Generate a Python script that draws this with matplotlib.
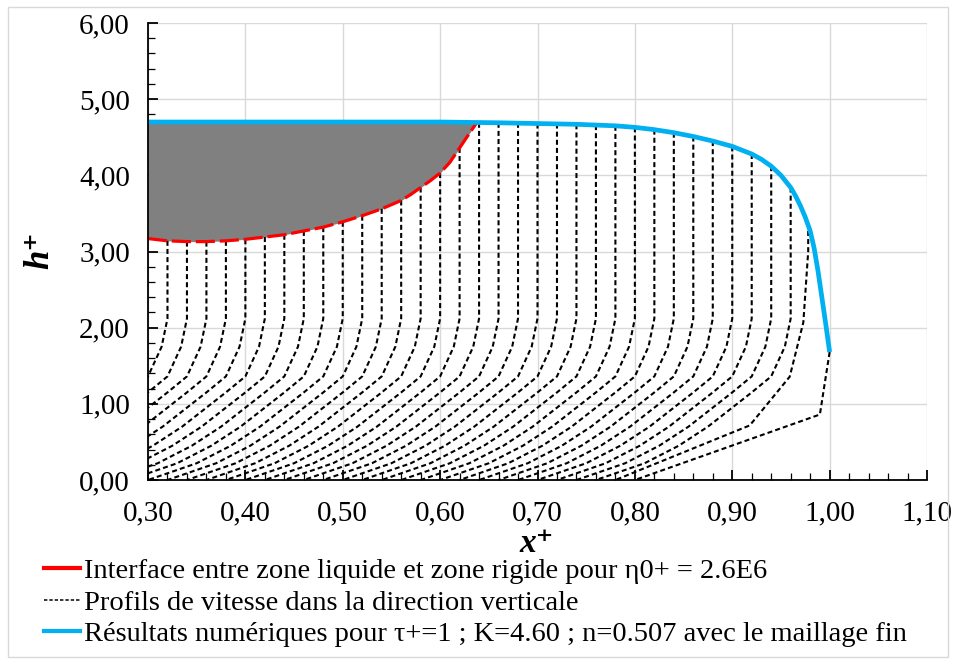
import numpy as np
import matplotlib
matplotlib.use("Agg")
import matplotlib.pyplot as plt
from matplotlib.lines import Line2D
from matplotlib.patches import Rectangle
from matplotlib.ticker import MultipleLocator, FuncFormatter

# ---------------- data ----------------
# free surface (numerical result, blue)
surf_x = [0.30, 0.40, 0.50, 0.60, 0.66, 0.70, 0.74, 0.78, 0.80, 0.82, 0.84, 0.86,
          0.88, 0.90, 0.91, 0.92, 0.93, 0.94, 0.95, 0.96, 0.965, 0.97, 0.975,
          0.98, 0.984, 0.988, 0.992, 0.996, 1.00]
surf_h = [4.70, 4.70, 4.70, 4.70, 4.69, 4.68, 4.67, 4.65, 4.63, 4.60, 4.56, 4.51,
          4.45, 4.38, 4.33, 4.28, 4.21, 4.12, 4.00, 3.84, 3.73, 3.60, 3.45,
          3.27, 3.05, 2.75, 2.40, 2.05, 1.68]

# liquid / rigid interface (red)
intf_x = [0.30, 0.32, 0.34, 0.36, 0.38, 0.40, 0.44, 0.48, 0.50, 0.52, 0.54, 0.56,
          0.57, 0.58, 0.59, 0.60, 0.61, 0.62, 0.63, 0.637]
intf_h = [3.17, 3.14, 3.13, 3.13, 3.14, 3.16, 3.22, 3.32, 3.39, 3.47, 3.56, 3.67,
          3.75, 3.84, 3.93, 4.03, 4.17, 4.36, 4.55, 4.68]

# velocity profiles: x position of plug part and height of its top
prof_x = [0.32, 0.34, 0.36, 0.38, 0.40, 0.42, 0.44, 0.46, 0.48, 0.50, 0.52, 0.54,
          0.56, 0.58, 0.60, 0.62, 0.64, 0.66, 0.68, 0.70, 0.72, 0.74, 0.76, 0.78,
          0.80, 0.82, 0.84, 0.86, 0.88, 0.90, 0.92, 0.94, 0.96]
prof_top = [3.14, 3.13, 3.13, 3.14, 3.16, 3.19, 3.22, 3.27, 3.32, 3.39, 3.47, 3.56,
            3.67, 3.84, 4.03, 4.36, 4.69, 4.69, 4.69, 4.68, 4.68, 4.67, 4.66, 4.65,
            4.63, 4.60, 4.56, 4.51, 4.45, 4.38, 4.28, 4.12, 3.84]
# common sheared-zone shape: heights and backward shift of each node
shear_h = [2.12, 1.75, 1.36, 1.15, 0.95, 0.70, 0.45, 0.22, 0.0]
shear_dx = [0.0, 0.006, 0.020, 0.040, 0.060, 0.085, 0.115, 0.150, 0.200]
# the two front profiles
front1_x = [0.978, 0.978, 0.973, 0.959, 0.918, 0.780]
front1_h = [3.27, 3.00, 2.07, 1.356, 0.717, 0.0]
front2_x = [1.00, 0.990, 0.800]
front2_h = [1.68, 0.86, 0.0]

xticks = [0.30, 0.40, 0.50, 0.60, 0.70, 0.80, 0.90, 1.00, 1.10]
yticks = [0, 1, 2, 3, 4, 5, 6]

lab_red = "Interface entre zone liquide et zone rigide pour η0+ = 2.6E6"
lab_blk = "Profils de vitesse dans la direction verticale"
lab_blu = "Résultats numériques pour τ+=1 ; K=4.60 ; n=0.507 avec le maillage fin"

# ---------------- figure ----------------
W, H = 956, 664
fig = plt.figure(figsize=(W / 100, H / 100), dpi=100)
serif = ["Liberation Serif", "DejaVu Serif"]
plt.rcParams["font.family"] = serif

ax = fig.add_axes([148 / W, 1 - 480 / H, (927 - 148) / W, (480 - 23) / H])
ax.set_xlim(0.30, 1.10)
ax.set_ylim(0, 6)

BLUE = "#00B0F0"
RED = "#FF0000"
GRAY = "#808080"

# gray rigid zone
fx = np.array(intf_x)
ftop = np.interp(fx, surf_x, surf_h)
ax.fill_between(fx, intf_h, ftop, color=GRAY, lw=0, zorder=2)

dash = (0, (2.4, 1.5))
LW = 1.5
for X, top in zip(prof_x, prof_top):
    xs = [X] + [X - d for d in shear_dx]
    hs = [top] + shear_h
    ax.plot(xs, hs, color="black", lw=LW, linestyle=dash, zorder=3)
ax.plot(front1_x, front1_h, color="black", lw=LW, linestyle=dash, zorder=3)
ax.plot(front2_x, front2_h, color="black", lw=LW, linestyle=dash, zorder=3)

ax.plot(intf_x, intf_h, color=RED, lw=2.3, linestyle=(0, (6.0, 1.5)), zorder=4)
ax.plot(surf_x, surf_h, color=BLUE, lw=3.4, solid_capstyle="butt",
        solid_joinstyle="round", zorder=5)

# axes styling
ax.xaxis.set_minor_locator(MultipleLocator(0.02))
ax.yaxis.set_minor_locator(MultipleLocator(0.2))
ax.set_xticks(xticks)
ax.set_yticks(yticks)
fmt = FuncFormatter(lambda v, p: f"{v:.2f}".replace(".", ","))
ax.xaxis.set_major_formatter(fmt)
ax.yaxis.set_major_formatter(fmt)
ax.grid(True, which="major", color="#d9d9d9", lw=1.0, zorder=0)
ax.set_axisbelow(True)
for s in ("top", "right"):
    ax.spines[s].set_visible(False)
for s in ("left", "bottom"):
    ax.spines[s].set_linewidth(1.3)
    ax.spines[s].set_zorder(6)
ax.tick_params(axis="both", which="major", direction="in", length=7, width=1.3,
               labelsize=21, colors="black")
ax.tick_params(axis="both", which="minor", direction="in", length=5, width=0.9)
ax.tick_params(axis="x", which="major", pad=15)
ax.tick_params(axis="y", which="major", pad=13)

fig.text(537 / W, 1 - 543 / H, "x⁺", ha="center", va="center", fontsize=24,
         fontweight="bold", fontstyle="italic", family=serif)
fig.text(40 / W, 1 - 250 / H, "h⁺", ha="center", va="center", fontsize=25,
         fontweight="bold", fontstyle="italic", family=serif, rotation=90)

handles = [Line2D([], [], color=RED, lw=3.0),
           Line2D([], [], color="black", lw=1.1, linestyle=(0, (2.2, 1.3))),
           Line2D([], [], color=BLUE, lw=3.0)]
fig.legend(handles, [lab_red, lab_blk, lab_blu], loc="upper left",
           bbox_to_anchor=(44 / W, 1 - 558 / H), frameon=False, fontsize=20.5,
           handlelength=1.25, handletextpad=0.14, labelspacing=0.2,
           borderpad=0, borderaxespad=0)

fig.add_artist(Rectangle((8 / W, 7 / H), (948 - 8) / W, (657 - 7) / H,
                         transform=fig.transFigure, fill=False,
                         edgecolor="#d9d9d9", lw=1.0))

fig.savefig("out.png", dpi=100)
